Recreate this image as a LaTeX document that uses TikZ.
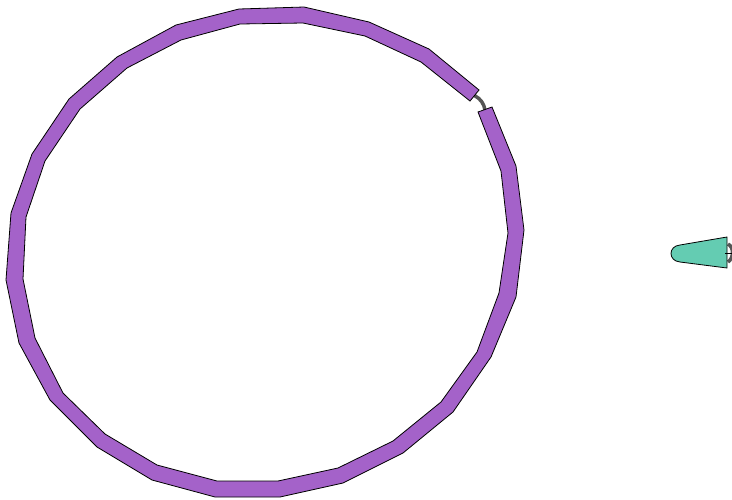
\documentclass[tikz,border=0pt]{standalone}
\usepackage{tikz}
\definecolor{ringpurple}{RGB}{164,98,201}
\definecolor{capteal}{RGB}{100,204,178}
\definecolor{linkgray}{RGB}{85,85,85}

\begin{document}
\begin{tikzpicture}[
    x=1pt, y=-1pt,
    band/.style={draw=black, fill=ringpurple, line width=0.8pt, line join=miter},
    tealpiece/.style={draw=black, fill=capteal, line width=0.8pt, line join=miter},
    link/.style={draw=linkgray, line width=3.5pt},
]
\useasboundingbox (0,0) rectangle (732,499);

% === Gap links (under the pieces) ===
\coordinate (endA) at (474.5,95.5);
\coordinate (startB) at (485,110);
\draw[link] (endA) .. controls (481,99) and (484,104) .. (startB);
\coordinate (capR) at (728,244);
\coordinate (capRb) at (728,262);
\draw[link] (capR) .. controls (734,247) and (734,258) .. (capRb);

% === Ring ===
\path[band]
    (492,107) -- (516,166) -- (524,230) -- (516,297) -- (491,357)
    -- (453,412) -- (403,453) -- (343,483) -- (280,497) -- (215,497)
    -- (152,480) -- (97,447) -- (50,400) -- (19,343) -- (6,280)
    -- (11,213) -- (32,154) -- (69,99) -- (117,57) -- (176,25)
    -- (239,9) -- (304,7) -- (369,22) -- (429,49) -- (479,90)
    -- (470,101)
    -- (421,62) -- (365,36) -- (303,23) -- (240,24) -- (181,40)
    -- (127,68) -- (80,109) -- (45,161) -- (26,217) -- (23,279)
    -- (35,338) -- (63,393) -- (105,434) -- (157,465) -- (217,481)
    -- (278,481) -- (338,468) -- (393,441) -- (441,402) -- (477,352)
    -- (499,293) -- (508,233) -- (501,171) -- (478,112) -- cycle;

% === Cap piece ===
\path[tealpiece] (680,245) -- (727,237) -- (727,268) -- (680,262)
    .. controls (668,261) and (668,246) .. (680,245) -- cycle;
\draw[line width=0.8pt] (725,253) -- (732,253);

\end{tikzpicture}
\end{document}
